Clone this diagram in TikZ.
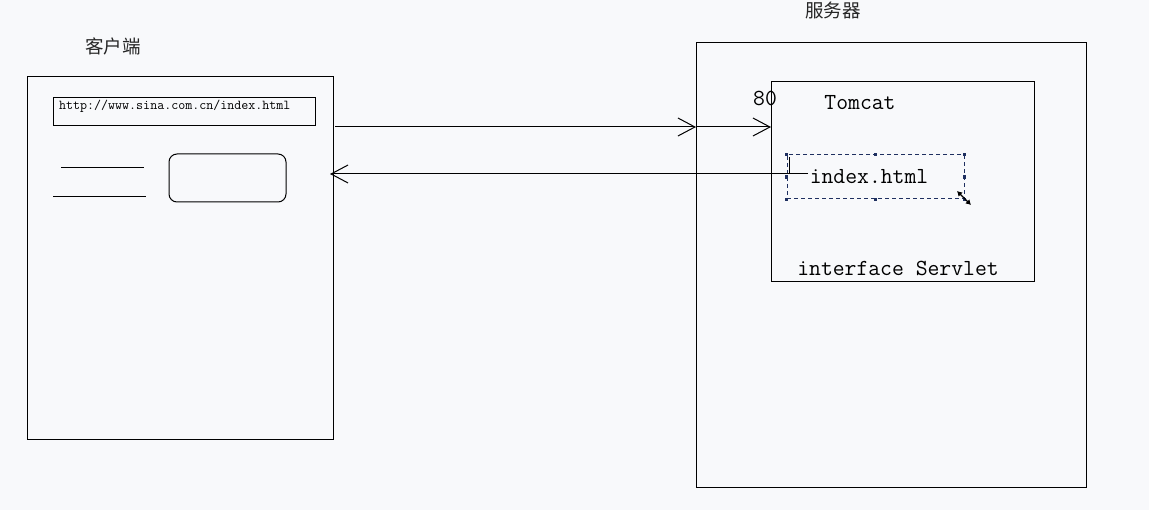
\documentclass[tikz,border=0pt]{standalone}
\usepackage{fontspec}
\newfontfamily\cjk{Noto Sans CJK SC}
\usetikzlibrary{arrows.meta, positioning}
\definecolor{paper}{HTML}{F8F9FB}
\definecolor{handle}{HTML}{1F3060}

\begin{document}
\begin{tikzpicture}[x=1pt, y=-1pt,
    box/.style={draw, line width=1pt, inner sep=0pt, outer sep=0pt},
    lbl/.style={font=\cjk\fontsize{18.5}{19}\selectfont, text=black!85},
    code/.style={font=\ttfamily\fontsize{23}{23}\selectfont, text=black, inner sep=0pt},
    flow/.style={-{Straight Barb[length=17pt, width=18pt]}, line width=1pt},
]
\fill[paper] (0,0) rectangle (1149,510);
\useasboundingbox (0,0) rectangle (1149,510);

% client
\node[lbl] (clientlbl) at (113,46) {客户端};
\node[box, minimum width=306pt, minimum height=363pt] (client) at (180,258.5) {};
\node[box, minimum width=262pt, minimum height=28pt] (urlbox) at (184,112) {};
\node[code, font=\ttfamily\fontsize{13.6}{14}\selectfont, anchor=west] (url) at (59,106)
   {http://www.sina.com.cn/index.html};
\draw[line width=1pt] (61,168) -- (144,168);
\draw[line width=1pt] (53,197) -- (146,197);
\node[box, rounded corners=8pt, minimum width=117pt, minimum height=48pt] (button) at (227.5,178) {};

% server
\node[lbl] (serverlbl) at (833,10) {服务器};
\node[box, minimum width=390pt, minimum height=444pt] (server) at (891,265) {};
\node[box, minimum width=263pt, minimum height=200pt] (tomcat) at (902.5,182) {};
\node[code] (port) at (765,98) {80};
\node[code] (tomcatlbl) at (860,103) {Tomcat};
\node[code] (servlet) at (898,268) {interface Servlet};
\node[draw=handle, dash pattern=on 4pt off 3pt, line width=1pt, inner sep=0pt,
      minimum width=177pt, minimum height=44pt] (page) at (875.5,177) {};
\node[code] (pagelbl) at (869,177) {index.html};
\foreach \a in {north west,north,north east,west,east,south west,south,south east}
   \fill[handle] (page.\a) ++(-1.7,-1.7) rectangle ++(3.4,3.4);
\draw[{Latex[length=5pt,width=6pt]}-{Latex[length=5pt,width=6pt]}, line width=1.2pt]
   (957,191) -- (971,205);

% request / response
\coordinate (req) at (335,127);
\coordinate (resp) at (808,174);
\draw[flow] (req) -- (req -| server.west);
\draw[flow] (req -| server.west) -- (req -| tomcat.west);
\draw[flow] (resp) -- ([xshift=-3pt]resp -| client.east);
\draw[line width=1pt] (789,157) -- (789,174);
\end{tikzpicture}
\end{document}
